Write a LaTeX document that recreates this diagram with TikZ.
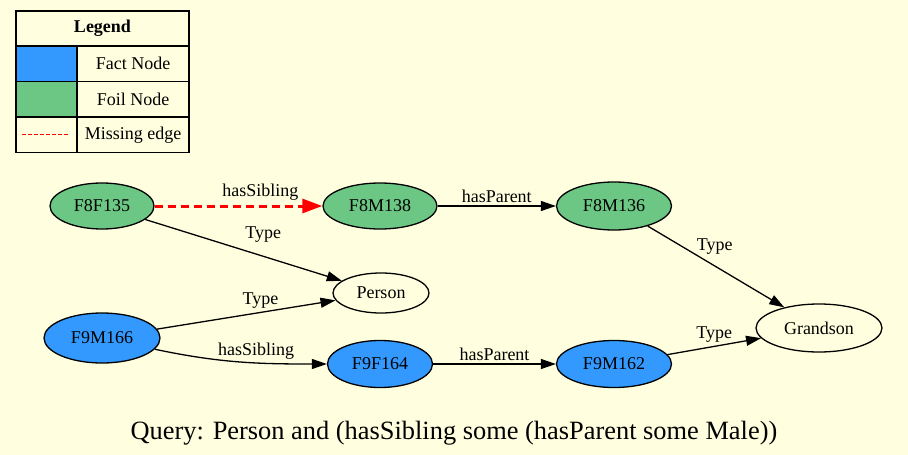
\documentclass[tikz,border=0pt]{standalone}
\usepackage{fontspec}
\setmainfont{Liberation Serif}
\usetikzlibrary{positioning,arrows.meta,shapes.geometric}
\definecolor{paper}{HTML}{FFFFE0}
\definecolor{fact}{HTML}{3399FF}
\definecolor{foil}{HTML}{6CC784}

\begin{document}
\begin{tikzpicture}[x=1pt, y=-1pt,
  every node/.style={font=\rmfamily\fontsize{18}{20}\selectfont},
  entity/.style={
    ellipse, draw, line width=1.3pt, inner sep=0pt,
    minimum width=114pt, minimum height=48pt,
  },
  factnode/.style={entity, fill=fact},
  foilnode/.style={entity, fill=foil},
  classnode/.style={entity, fill=paper},
  cell/.style={draw, line width=1.3pt, inner sep=0pt, outer sep=0pt, minimum height=35.5pt},
  lbl/.style={inner sep=1pt, text=black},
  edge/.style={-{Triangle[length=15pt,width=10pt]}, line width=1.3pt},
  missing/.style={-{Triangle[length=20pt,width=14pt]}, line width=3pt, red, dash pattern=on 8pt off 5pt},
]
  \path[use as bounding box, fill=paper] (0,0) rectangle (908,455);

  % Legend (table, top left)
  \node[cell, minimum width=173pt, minimum height=35pt, anchor=north west,
        font=\rmfamily\bfseries\fontsize{18}{20}\selectfont] (legend) at (16,11) {Legend};
  \node[cell, fill=fact, minimum width=61pt, anchor=north west] (factkey) at (legend.south west) {};
  \node[cell, minimum width=112pt, anchor=north west] (facttext) at (factkey.north east) {Fact Node};
  \node[cell, fill=foil, minimum width=61pt, anchor=north west] (foilkey) at (factkey.south west) {};
  \node[cell, minimum width=112pt, anchor=north west] (foiltext) at (foilkey.north east) {Foil Node};
  \node[cell, minimum width=61pt, anchor=north west] (misskey) at (foilkey.south west) {};
  \node[cell, minimum width=112pt, anchor=north west] (misstext) at (misskey.north east) {Missing edge};
  \draw[red, line width=1.3pt, dash pattern=on 4pt off 2pt]
    ([xshift=6pt]misskey.west) -- ([xshift=-8pt]misskey.east);

  % Foil individuals (top row)
  \node[foilnode, minimum width=104pt, minimum height=46pt] (f8f135) at (102,206) {F8F135};
  \node[foilnode, minimum width=114pt, minimum height=46pt] (f8m138) at (380,206) {F8M138};
  \node[foilnode, minimum width=115pt, minimum height=48pt] (f8m136) at (614,206) {F8M136};

  % Classes
  \node[classnode, minimum width=96pt, minimum height=40pt] (person) at (381,293) {Person};
  \node[classnode, minimum width=126pt, minimum height=48pt] (grandson) at (819,328) {Grandson};

  % Fact individuals (bottom row)
  \node[factnode, minimum width=116pt, minimum height=50pt] (f9m166) at (102,338) {F9M166};
  \node[factnode, minimum width=105pt, minimum height=47pt] (f9f164) at (380,364) {F9F164};
  \node[factnode, minimum width=115pt, minimum height=47pt] (f9m162) at (614,364) {F9M162};

  % Edges
  \draw[missing] (f8f135) -- node[lbl, pos=0.63, above=3pt] (sib1) {hasSibling} (f8m138);
  \draw[edge] (f8m138) -- node[lbl, above=2pt] (par1) {hasParent} (f8m136);
  \draw[edge] (f8f135) -- node[lbl, pos=0.6, above=12pt] (typ1) {Type} (person);
  \draw[edge] (f9m166) -- node[lbl, pos=0.58, above=2pt] (typ2) {Type} (person);
  \draw[edge] (f9m166) to[out=-12, in=180] node[lbl, pos=0.6, above=2pt] (sib2) {hasSibling} (f9f164);
  \draw[edge] (f9f164) -- node[lbl, above=2pt] (par2) {hasParent} (f9m162);
  \draw[edge] (f8m136) -- node[lbl, pos=0.49, above=10pt] (typ3) {Type} (grandson);
  \draw[edge] (f9m162) -- node[lbl, pos=0.5, above=2pt] (typ4) {Type} (grandson);

  % Query caption
  \node[font=\rmfamily\fontsize{26.4}{30}\selectfont, anchor=base] (query) at (454,439)
    {Query: Person and (hasSibling some (hasParent some Male))};
\end{tikzpicture}
\end{document}
